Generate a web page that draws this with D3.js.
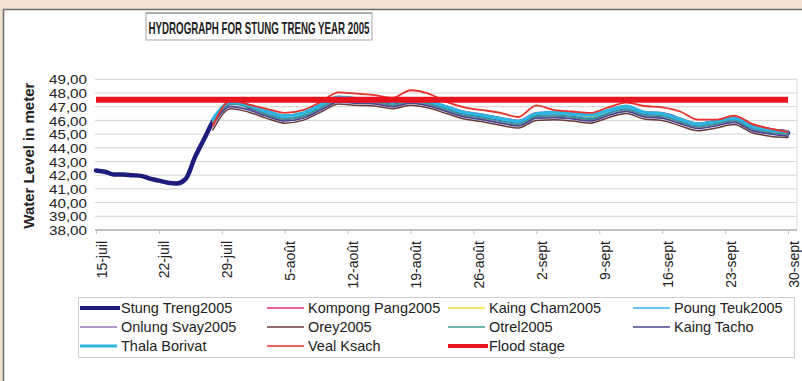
<!DOCTYPE html>
<html>
<head>
<meta charset="utf-8">
<script src="https://cdn.jsdelivr.net/npm/d3@7"></script>
<style>
  body { margin: 0; background: #f2e2d1; }
  svg { display: block; }
  text { font-family: "Liberation Sans", Arial, sans-serif; fill: #222; }
</style>
</head>
<body>
<svg id="chart" width="802" height="381"></svg>
<script>
// ---- data -------------------------------------------------------------
const titleText = "HYDROGRAPH  FOR STUNG TRENG YEAR 2005";
const yLabel = "Water Level in meter";
const yTicks = [38, 39, 40, 41, 42, 43, 44, 45, 46, 47, 48, 49];
const xTickDates = ["2005-07-15", "2005-07-22", "2005-07-29", "2005-08-05", "2005-08-12", "2005-08-19",
                    "2005-08-26", "2005-09-02", "2005-09-09", "2005-09-16", "2005-09-23", "2005-09-30"];
const xTickLabels = ["15-juil", "22-juil", "29-juil", "5-août", "12-août", "19-août",
                     "26-août", "2-sept", "9-sept", "16-sept", "23-sept", "30-sept"];

const floodStage = 47.5;

// Stung Treng daily water level, 15 July – 30 September 2005
const stungTrengStart = "2005-07-15";
const stungTreng = [
  42.35, 42.25, 42.05, 42.05, 42.0, 41.95, 41.75, 41.6, 41.45, 41.4,
  41.75, 43.3, 44.6, 45.9, 46.8, 47.3, 47.3, 47.0, 46.8, 46.55,
  46.35, 46.2, 46.25, 46.4, 46.55, 47.0, 47.4, 47.6, 47.55, 47.5,
  47.5, 47.45, 47.3, 47.25, 47.35, 47.5, 47.5, 47.3, 47.1, 46.9,
  46.7, 46.5, 46.4, 46.3, 46.2, 46.05, 45.95, 45.85, 46.0, 46.4,
  46.45, 46.45, 46.4, 46.35, 46.25, 46.2, 46.25, 46.6, 46.85, 46.9,
  46.7, 46.5, 46.4, 46.4, 46.3, 46.0, 45.75, 45.65, 45.75, 45.85,
  46.0, 46.1, 45.8, 45.5, 45.35, 45.25, 45.2, 45.1
];

// other stations, read every second day from 28 July
const stationDates = [
  "2005-07-28", "2005-07-30", "2005-08-01", "2005-08-03", "2005-08-05", "2005-08-07", "2005-08-09",
  "2005-08-11", "2005-08-13", "2005-08-15", "2005-08-17", "2005-08-19", "2005-08-21", "2005-08-23",
  "2005-08-25", "2005-08-27", "2005-08-29", "2005-08-31", "2005-09-02", "2005-09-04", "2005-09-06",
  "2005-09-08", "2005-09-10", "2005-09-12", "2005-09-14", "2005-09-16", "2005-09-18", "2005-09-20",
  "2005-09-22", "2005-09-24", "2005-09-26", "2005-09-28", "2005-09-30"
];
const kompongPang = [45.8, 47.4, 47.15, 46.7, 46.35, 46.55, 47.15, 47.75, 47.65, 47.6, 47.4, 47.65, 47.45, 47.05, 46.65, 46.45, 46.2,
  46.0, 46.55, 46.6, 46.5, 46.35, 46.75, 47.05, 46.65, 46.55, 46.15, 45.8, 46.0, 46.25, 45.65, 45.4, 45.25];
const kaingCham = [45.9, 47.3, 47.05, 46.6, 46.25, 46.45, 47.05, 47.65, 47.55, 47.5, 47.3, 47.55, 47.35, 46.95, 46.55, 46.35, 46.1,
  45.9, 46.45, 46.5, 46.4, 46.25, 46.65, 46.95, 46.55, 46.45, 46.05, 45.7, 45.9, 46.15, 45.55, 45.3, 45.15];
const poungTeuk = [46.0, 47.25, 47.0, 46.55, 46.2, 46.4, 47.0, 47.6, 47.5, 47.45, 47.25, 47.5, 47.3, 46.9, 46.5, 46.3, 46.05,
  45.85, 46.4, 46.45, 46.35, 46.2, 46.6, 46.9, 46.5, 46.4, 46.0, 45.65, 45.85, 46.1, 45.5, 45.25, 45.1];
const onlungSvay = [45.6, 47.05, 46.8, 46.35, 46.0, 46.2, 46.8, 47.4, 47.3, 47.25, 47.05, 47.3, 47.1, 46.7, 46.3, 46.1, 45.85,
  45.65, 46.2, 46.25, 46.15, 46.0, 46.4, 46.7, 46.3, 46.2, 45.8, 45.45, 45.65, 45.9, 45.3, 45.05, 44.9];
const orey = [45.3, 46.85, 46.6, 46.15, 45.8, 46.0, 46.6, 47.2, 47.1, 47.05, 46.85, 47.1, 46.9, 46.5, 46.1, 45.9, 45.65,
  45.45, 46.0, 46.05, 45.95, 45.8, 46.2, 46.5, 46.1, 46.0, 45.6, 45.25, 45.45, 45.7, 45.1, 44.85, 44.75];
const otrel = [45.85, 47.2, 46.95, 46.45, 46.1, 46.3, 46.9, 47.5, 47.4, 47.35, 47.15, 47.4, 47.2, 46.8, 46.4, 46.2, 45.95,
  45.75, 46.3, 46.35, 46.25, 46.1, 46.5, 46.8, 46.4, 46.3, 45.9, 45.55, 45.75, 46.0, 45.4, 45.15, 45.0];
const kaingTacho = [45.7, 47.0, 46.75, 46.3, 45.95, 46.15, 46.75, 47.35, 47.25, 47.2, 47.0, 47.25, 47.05, 46.65, 46.25, 46.05, 45.8,
  45.6, 46.15, 46.2, 46.1, 45.95, 46.35, 46.65, 46.25, 46.15, 45.75, 45.4, 45.6, 45.85, 45.25, 45.0, 44.85];
const thalaBorivat = [46.1, 47.35, 47.1, 46.7, 46.35, 46.55, 47.15, 47.7, 47.6, 47.55, 47.35, 47.6, 47.4, 47.0, 46.6, 46.4, 46.15,
  45.95, 46.5, 46.6, 46.5, 46.4, 46.75, 47.05, 46.6, 46.5, 46.1, 45.75, 45.95, 46.15, 45.55, 45.3, 45.15];
const vealKsach = [45.6, 47.45, 47.15, 46.85, 46.55, 46.75, 47.35, 48.05, 47.95, 47.85, 47.65, 48.2, 47.95, 47.35, 46.95, 46.75, 46.55,
  46.25, 47.1, 46.75, 46.65, 46.55, 46.95, 47.3, 47.05, 46.95, 46.65, 46.05, 46.05, 46.35, 45.75, 45.4, 45.15];

const seriesNames = ["Stung Treng2005", "Kompong Pang2005", "Kaing Cham2005", "Poung Teuk2005",
                     "Onlung Svay2005", "Orey2005", "Otrel2005", "Kaing Tacho",
                     "Thala Borivat", "Veal Ksach", "Flood stage"];
const seriesColors = ["#1c1c7c", "#e0306e", "#f0e040", "#3cb0ea",
                      "#9a74b8", "#6a3a3a", "#3c9e96", "#46468e",
                      "#2cb4e2", "#e8322a", "#ea1420"];
const seriesWidths = [4.5, 1.5, 1.5, 1.5, 1.5, 1.5, 1.5, 1.5, 3, 1.8, 6];

// ---- layout -----------------------------------------------------------
const svg = d3.select("#chart");
const W = 802, H = 381;
const plot = { left: 95, right: 797, top: 79.3, bottom: 230 };

const parse = d3.timeParse("%Y-%m-%d");
const x = d3.scaleTime()
  .domain([parse("2005-07-15"), parse("2005-09-30")])
  .range([96, 788]);
const y = d3.scaleLinear().domain([38, 49]).range([plot.bottom, plot.top]);

// page frame
svg.append("rect").attr("x", 0).attr("y", 0).attr("width", W).attr("height", H).attr("fill", "#f2e2d1");
svg.append("rect").attr("x", 3.5).attr("y", 9.5).attr("width", W + 10).attr("height", H + 10)
  .attr("fill", "#fff").attr("stroke", "#6e6e6e").attr("stroke-width", 1.5);

// title box
svg.append("rect").attr("x", 146).attr("y", 13).attr("width", 226).attr("height", 27)
  .attr("fill", "#fff").attr("stroke", "#b4b4b4").attr("stroke-width", 1.2);
svg.append("line").attr("x1", 146).attr("x2", 372).attr("y1", 13).attr("y2", 13)
  .attr("stroke", "#8c8c8c").attr("stroke-width", 1.2);
svg.append("text")
  .attr("x", 259).attr("y", 34)
  .attr("text-anchor", "middle")
  .attr("font-weight", "bold").attr("font-size", 17)
  .attr("textLength", 221).attr("lengthAdjust", "spacingAndGlyphs")
  .style("font-family", "'Liberation Sans Narrow', 'Liberation Sans', Arial, sans-serif")
  .text(titleText);

// gridlines
svg.append("g").selectAll("line").data(yTicks).join("line")
  .attr("x1", plot.left).attr("x2", plot.right)
  .attr("y1", d => y(d)).attr("y2", d => y(d))
  .attr("stroke", "#d2d2d2").attr("stroke-width", 1);
svg.append("line").attr("x1", plot.right).attr("x2", plot.right)
  .attr("y1", plot.top).attr("y2", plot.bottom).attr("stroke", "#dcdcdc");

// y axis
const yAxis = svg.append("g").attr("transform", `translate(${plot.left},0)`)
  .call(d3.axisLeft(y).tickValues(yTicks).tickSize(0).tickPadding(8)
    .tickFormat(d => d3.format(".2f")(d).replace(".", ",")));
yAxis.select(".domain").remove();
yAxis.selectAll("text").attr("font-size", 13).attr("fill", "#333")
  .attr("textLength", 38).attr("lengthAdjust", "spacingAndGlyphs")
  .style("font-family", "'Liberation Sans', Arial, sans-serif").attr("dy", "0.36em");

svg.append("text")
  .attr("transform", `translate(34,${(plot.top + plot.bottom) / 2 + 1}) rotate(-90)`)
  .attr("text-anchor", "middle").attr("font-weight", "bold").attr("font-size", 14)
  .attr("textLength", 146).attr("lengthAdjust", "spacingAndGlyphs")
  .attr("fill", "#333").text(yLabel);

// x axis
const tickDates = xTickDates.map(parse);
const xAxis = svg.append("g").attr("transform", `translate(0,${plot.bottom})`)
  .call(d3.axisBottom(x).tickValues(tickDates).tickSize(4).tickFormat((d, i) => xTickLabels[i]));
xAxis.select(".domain").attr("d", `M${plot.left},0H${plot.right}`).attr("stroke", "#9a9a9a");
xAxis.selectAll(".tick line").attr("stroke", "#bdbdbd");
xAxis.selectAll(".tick text")
  .attr("font-size", 14).attr("fill", "#333")
  .style("font-family", "'Liberation Sans', Arial, sans-serif")
  .attr("text-anchor", "end")
  .attr("x", -11).attr("y", 0).attr("dy", "0.36em").attr("dx", 0)
  .attr("transform", "translate(5,0) rotate(-90)");

// ---- lines ------------------------------------------------------------
const line = d3.line()
  .defined(d => d.v != null)
  .x(d => x(d.date)).y(d => y(d.v))
  .curve(d3.curveMonotoneX);

const stDates = d3.timeDay.range(parse(stungTrengStart), d3.timeDay.offset(parse(stungTrengStart), stungTreng.length));
const stationSeries = [kompongPang, kaingCham, poungTeuk, onlungSvay, orey, otrel, kaingTacho, thalaBorivat, vealKsach];
const stDatesCluster = stationDates.map(parse);

const allSeries = [
  stungTreng.map((v, i) => ({ date: stDates[i], v })),
  ...stationSeries.map(arr => arr.map((v, i) => ({ date: stDatesCluster[i], v })))
];

const lines = svg.append("g").attr("fill", "none")
  .attr("stroke-linejoin", "round").attr("stroke-linecap", "round");
allSeries.forEach((s, i) => {
  lines.append("path").datum(s).attr("d", line)
    .attr("stroke", seriesColors[i]).attr("stroke-width", seriesWidths[i]);
});

// flood stage
const floodData = [{ date: x.domain()[0], v: floodStage }, { date: x.domain()[1], v: floodStage }];
lines.append("path").datum(floodData)
  .attr("d", d3.line().x(d => x(d.date)).y(d => y(d.v)))
  .attr("stroke", seriesColors[10]).attr("stroke-width", seriesWidths[10]).attr("stroke-linecap", "butt");

// ---- legend -----------------------------------------------------------
const legendCols = [80, 267, 448, 633];
const legendRows = [308, 327, 346];
svg.append("rect").attr("x", 78.5).attr("y", 297.5).attr("width", 716).attr("height", 60)
  .attr("fill", "none").attr("stroke", "#cfcfcf");
const legend = svg.append("g");
seriesNames.forEach((name, i) => {
  const cx = legendCols[i % 4], cy = legendRows[Math.floor(i / 4)];
  const item = legend.append("g").attr("transform", `translate(${cx},${cy})`);
  item.append("line").attr("x1", 0).attr("x2", i === 0 || i === 10 ? 40 : 37).attr("y1", 0).attr("y2", 0)
    .attr("stroke", seriesColors[i])
    .attr("stroke-width", i === 0 || i === 10 ? 4 : (i === 8 ? 3 : 1.6));
  item.append("text").attr("x", 41).attr("y", 0).attr("dy", "0.36em")
    .attr("font-size", 14.5).attr("fill", "#333").text(name);
});
</script>
</body>
</html>
